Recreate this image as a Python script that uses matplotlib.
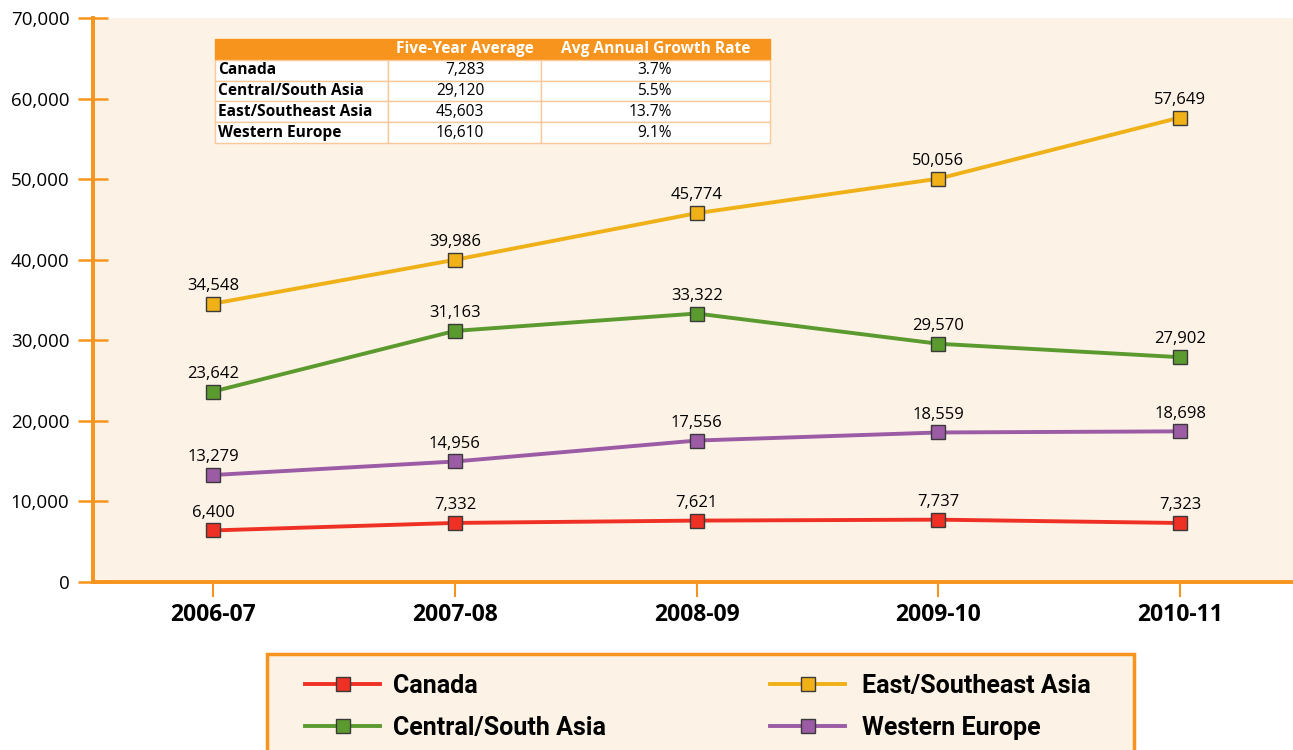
import numpy as np
import matplotlib.pyplot as plt
from matplotlib.patches import Rectangle

years = ["2006-07", "2007-08", "2008-09", "2009-10", "2010-11"]
canada = [6400, 7332, 7621, 7737, 7323]
east_asia = [34548, 39986, 45774, 50056, 57649]
central_asia = [23642, 31163, 33322, 29570, 27902]
west_europe = [13279, 14956, 17556, 18559, 18698]

table_regions = ["Canada", "Central/South Asia", "East/Southeast Asia", "Western Europe"]
table_avg = ["7,283", "29,120", "45,603", "16,610"]
table_growth = ["3.7%", "5.5%", "13.7%", "9.1%"]
table_cols = ["", "Five-Year Average", "Avg Annual Growth Rate"]

ORANGE = "#F7941D"
BG = "#FDF2E6"
plt.rcParams['font.family'] = ['Open Sans', 'DejaVu Sans']

fig = plt.figure(figsize=(12.93, 7.5), dpi=100)
ax = fig.add_axes([93/1293, 1 - 582/750, 1200/1293, 564/750])
ax.set_facecolor(BG)

series = [
    ("Canada", canada, "#EE3124"),
    ("Central/South Asia", central_asia, "#5B9A2F"),
    ("East/Southeast Asia", east_asia, "#F0B118"),
    ("Western Europe", west_europe, "#9B5BA5"),
]
x = np.arange(len(years))
handles = []
for name, vals, col in series:
    h, = ax.plot(x, vals, color=col, lw=2.8, marker='s', ms=9.5,
                 mfc=col, mec="#3a3a3a", mew=1.0, label=name, zorder=3)
    handles.append(h)
    for xi, v in zip(x, vals):
        ax.annotate(f"{v:,}", (xi, v), xytext=(0, 7), textcoords='offset points',
                    ha='center', va='bottom', fontsize=12, color='black')

ax.set_xlim(-0.497, 4.467)
ax.set_ylim(0, 70000)
ax.set_xticks(x)
ax.set_xticklabels(years, fontsize=16.5, fontweight='bold')
ax.set_yticks(np.arange(0, 70001, 10000))
ax.set_yticklabels([f"{v:,}" for v in range(0, 70001, 10000)], fontsize=13.5, fontweight='medium')
for s in ['top', 'right']:
    ax.spines[s].set_visible(False)
for s in ['left', 'bottom']:
    ax.spines[s].set_color(ORANGE)
    ax.spines[s].set_linewidth(2.8)
ax.tick_params(axis='y', direction='inout', length=22, width=1.8, color=ORANGE, pad=6)
ax.tick_params(axis='x', direction='out', length=11, width=1.5, color=ORANGE, pad=4)

# summary table
tbl = ax.table(cellText=[[r, a, g] for r, a, g in zip(table_regions, table_avg, table_growth)],
               colLabels=table_cols, colWidths=[173, 153, 229],
               bbox=[(215-93)/1200, (582-143)/564, 555/1200, 104/564], cellLoc='center')
tbl.auto_set_font_size(False)
pads = {0: 0.02, 1: 0.37, 2: 0.43}
for (r, c), cell in tbl.get_celld().items():
    cell.set_edgecolor("#F9C99A")
    cell.set_linewidth(1.0)
    cell.get_text().set_fontsize(11.2)
    if r == 0:
        cell.set_facecolor(ORANGE)
        cell.set_edgecolor(ORANGE)
        cell.get_text().set_color('white')
        cell.get_text().set_fontweight('bold')
    else:
        cell.set_facecolor('white')
        cell.PAD = pads[c]
        if c == 0:
            cell.get_text().set_fontweight('bold')
            cell._loc = 'left'
            cell.get_text().set_ha('left')
        else:
            cell._loc = 'right'
            cell.get_text().set_ha('right')

# legend box
fig.add_artist(Rectangle((267/1293, -0.05), 867/1293, 0.05 + (750-654)/750,
                         transform=fig.transFigure, facecolor=BG, edgecolor=ORANGE,
                         lw=2.5, clip_on=False))
legfont = {'family': ['Roboto', 'DejaVu Sans'], 'weight': 'bold', 'size': 18}
fig.legend(handles[:2], [s[0] for s in series[:2]], loc='center left',
           bbox_to_anchor=(305/1293, 1 - 707/750), frameon=False, prop=legfont,
           handlelength=3.0, handletextpad=0.52, labelspacing=0.72,
           borderpad=0, borderaxespad=0)
fig.legend(handles[2:], [s[0] for s in series[2:]], loc='center left',
           bbox_to_anchor=(770/1293, 1 - 707/750), frameon=False, prop=legfont,
           handlelength=3.0, handletextpad=0.68, labelspacing=0.72,
           borderpad=0, borderaxespad=0)

fig.savefig("out.png", dpi=100)
